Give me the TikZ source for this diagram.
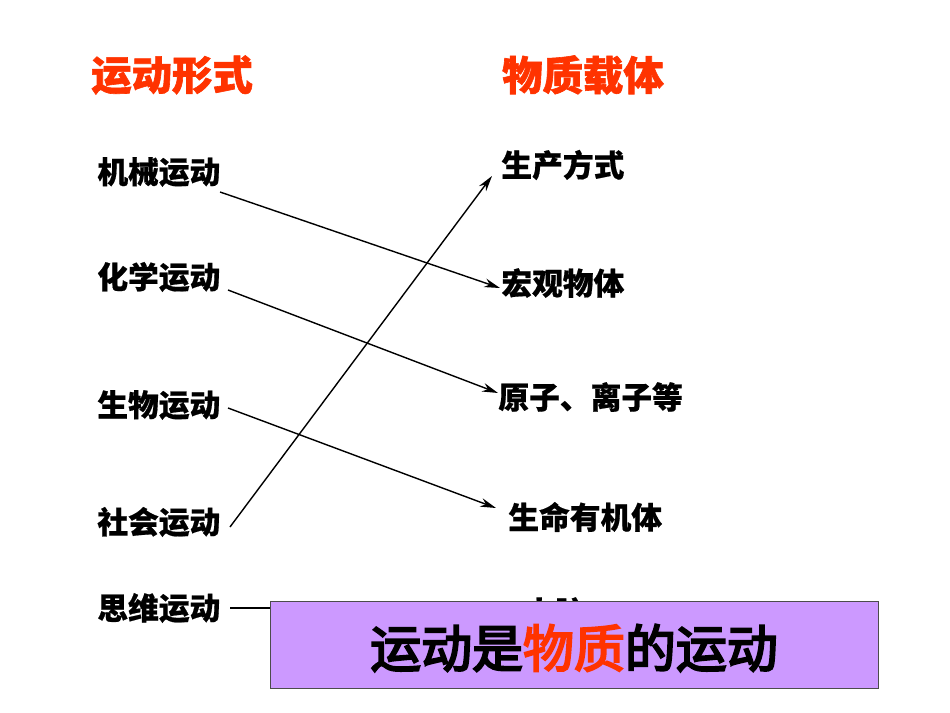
\documentclass[tikz,border=0pt]{standalone}
\usepackage{fontspec}
\newfontfamily\cjk[FakeBold=0.6]{Noto Sans CJK SC}
\newfontfamily\cjkt[FakeBold=1.5]{Noto Sans CJK SC}
\newfontfamily\cjkb[FakeBold=4]{Noto Sans CJK SC}
\usetikzlibrary{arrows.meta}
\definecolor{tred}{HTML}{FF3300}
\definecolor{boxc}{HTML}{CC99FF}
\begin{document}
\begin{tikzpicture}[x=0.02cm,y=-0.02cm,
  title/.style={text=tred,font=\fontsize{23}{26}\selectfont\cjkt\bfseries},
  item/.style={anchor=west,inner sep=0pt,font=\fontsize{17.5}{20}\selectfont\cjk\bfseries},
  arr/.style={-{Stealth[length=9pt,width=5pt]},line width=0.8pt}]
\useasboundingbox (0,0) rectangle (950,713);
\node[title] (t1) at (172,75) {运动形式};
\node[title] (t2) at (583,75) {物质载体};
\node[item] (l1) at (97,172) {机械运动};
\node[item] (l2) at (97,277) {化学运动};
\node[item] (l3) at (97,405) {生物运动};
\node[item] (l4) at (97,522) {社会运动};
\node[item] (l5) at (97,608) {思维运动};
\node[item] (r1) at (501,165) {生产方式};
\node[item] (r2) at (501,283) {宏观物体};
\node[item] (r3) at (498,397) {原子、离子等};
\node[item] (r4) at (508,517) {生命有机体};
\node[item] (r5) at (524,612) {人脑};
\coordinate (a1) at (220,192); \coordinate (b1) at (500,288);
\coordinate (a2) at (228,290); \coordinate (b2) at (498,393);
\coordinate (a3) at (228,408); \coordinate (b3) at (496,508);
\coordinate (a4) at (230,527); \coordinate (b4) at (492,176);
\coordinate (a5) at (230,608); \coordinate (b5) at (272,608);
\draw[arr] (a1) -- (b1);
\draw[arr] (a2) -- (b2);
\draw[arr] (a3) -- (b3);
\draw[arr] (a4) -- (b4);
\draw[line width=0.8pt] (a5) -- (b5);
\node[draw=black!70,fill=boxc,minimum width=608*0.02cm,minimum height=87*0.02cm,anchor=north west,inner sep=0pt,line width=0.8pt] (box) at (270,601) {};
\node[font=\fontsize{29}{32}\selectfont\cjkb] (bt) at (574,648) {运动是\textcolor{tred}{物质}的运动};
\end{tikzpicture}
\end{document}
